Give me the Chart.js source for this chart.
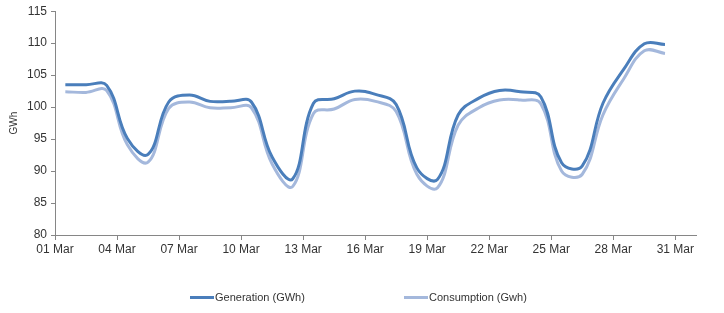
<!DOCTYPE html>
<html>
<head>
<meta charset="utf-8">
<script src="https://cdn.jsdelivr.net/npm/chart.js@4/dist/chart.umd.min.js"></script>
<style>
  html, body { margin: 0; padding: 0; background: #ffffff; }
  #wrap { position: relative; width: 724px; height: 313px; }
  #legend { position: absolute; left: 0; top: 290px; width: 724px; height: 16px;
    font-family: "Liberation Sans", Arial, sans-serif; font-size: 11px; color: #333; }
  .item { position: absolute; top: 0; display: flex; align-items: center; height: 14px; white-space: nowrap; }
  .swatch { display: inline-block; width: 24px; height: 3px; margin-right: 1px; }
</style>
</head>
<body>
<div id="wrap">
  <canvas id="c" width="724" height="313"></canvas>
  <div id="legend"></div>
</div>
<script>
// Day of month for each data point (01 Mar .. 30 Mar)
const days = [1,2,3,4,5,6,7,8,9,10,11,12,13,14,15,16,17,18,19,20,21,22,23,24,25,26,27,28,29,30];
const generation = [103.5,103.5,103.4,95.1,92.6,100.8,101.9,100.9,100.9,100.8,92.2,88.8,100.6,101.3,102.5,102.0,100.4,90.5,88.7,98.8,101.4,102.6,102.4,101.6,91.3,90.8,100.6,105.9,109.9,109.8];
const consumption = [102.4,102.3,102.6,94.1,91.4,99.8,100.8,99.9,99.9,99.9,91.1,87.6,99.0,99.7,101.2,100.9,99.3,89.5,87.4,97.2,99.9,101.1,101.1,100.5,90.0,89.5,98.8,104.4,108.8,108.4];
const xTickLabels = ['01 Mar','04 Mar','07 Mar','10 Mar','13 Mar','16 Mar','19 Mar','22 Mar','25 Mar','28 Mar','31 Mar'];
const seriesNames = ['Generation (GWh)', 'Consumption (Gwh)'];
const seriesColors = ['#4a7ebb', '#a4b8dc'];

const toPoints = arr => arr.map((v, i) => ({ x: days[i] - 0.5, y: v }));
const font = { family: '"Liberation Sans", Arial, sans-serif', size: 12 };

new Chart(document.getElementById('c'), {
  type: 'line',
  data: {
    datasets: [
      { label: seriesNames[0], data: toPoints(generation), borderColor: seriesColors[0], borderWidth: 3,
        pointRadius: 0, tension: 0.4, fill: false, order: 0 },
      { label: seriesNames[1], data: toPoints(consumption), borderColor: seriesColors[1], borderWidth: 3,
        pointRadius: 0, tension: 0.4, fill: false, order: 1 }
    ]
  },
  options: {
    responsive: false,
    animation: false,
    devicePixelRatio: 1,
    layout: { padding: { left: 0, right: 28, top: 8, bottom: 0 } },
    plugins: { legend: { display: false }, tooltip: { enabled: false } },
    scales: {
      x: {
        type: 'linear', min: 0, max: 31,
        afterFit: s => { s.height = 78; },
        border: { display: true, color: '#868686', width: 1 },
        grid: { display: true, drawOnChartArea: false, drawTicks: true, tickLength: 5, color: '#868686' },
        ticks: {
          stepSize: 3, includeBounds: false, autoSkip: false, maxRotation: 0, padding: 2,
          color: '#333', font: font,
          callback: v => xTickLabels[Math.round(v / 3)]
        }
      },
      y: {
        min: 80, max: 115,
        afterFit: s => { s.width = 55; },
        border: { display: true, color: '#868686', width: 1 },
        grid: { display: true, drawOnChartArea: false, drawTicks: true, tickLength: 4, color: '#868686' },
        ticks: { stepSize: 5, color: '#333', font: font, padding: 4 },
        title: { display: true, text: 'GWh', color: '#333',
          font: { family: '"Liberation Sans", Arial, sans-serif', size: 10 }, padding: { top: 8, bottom: 0 } }
      }
    }
  }
});

// HTML legend
const legend = document.getElementById('legend');
const lefts = [190, 404];
seriesNames.forEach((name, i) => {
  const d = document.createElement('div');
  d.className = 'item';
  d.style.left = lefts[i] + 'px';
  d.innerHTML = '<span class="swatch" style="background:' + seriesColors[i] + '"></span><span>' + name + '</span>';
  legend.appendChild(d);
});
</script>
</body>
</html>
